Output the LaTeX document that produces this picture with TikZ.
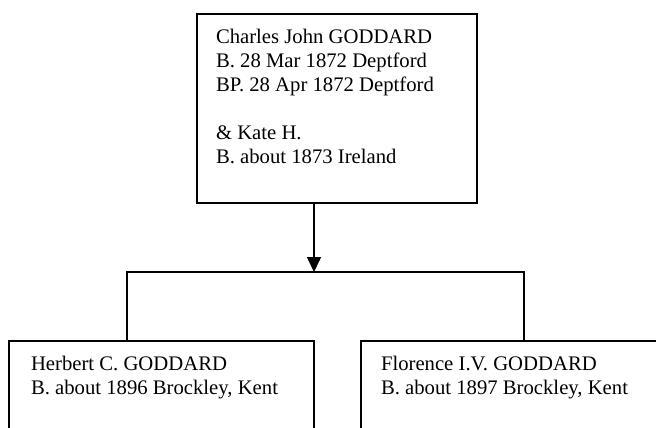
\documentclass[tikz,border=0pt]{standalone}
\usepackage{fontspec}
\setmainfont{Liberation Serif}
\usetikzlibrary{arrows.meta}
\tikzset{
  box/.style={draw=black, line width=1.6pt, rectangle, anchor=north west, inner sep=0pt, outer sep=0pt},
  txt/.style={anchor=north west, inner sep=0pt, outer sep=0pt, align=left,
    font=\fontsize{20.7pt}{24pt}\selectfont},
  conn/.style={draw=black, line width=1.6pt},
}
\begin{document}
\begin{tikzpicture}[x=1pt,y=-1pt]
\clip (0,0) rectangle (656,428);
\fill[white] (0,0) rectangle (656,428);
% boxes
\node[box, minimum width=280pt, minimum height=189pt] (top) at (197,14) {};
\node[box, minimum width=305pt, minimum height=120pt] (lbox) at (9,341) {};
\node[box, minimum width=320pt, minimum height=120pt] (rbox) at (361,341) {};
% texts
\node[txt] (toptxt) at (216,29) {Charles John GODDARD\\B. 28 Mar 1872 Deptford\\BP. 28 Apr 1872 Deptford\\~\\\& Kate H.\\B. about 1873 Ireland};
\node[txt] (ltxt) at (31,356) {Herbert C. GODDARD\\B. about 1896 Brockley, Kent};
\node[txt] (rtxt) at (381,356) {Florence I.V. GODDARD\\B. about 1897 Brockley, Kent};
% connectors
\coordinate (junc) at (314,272);
\coordinate (cl) at (127,272);
\coordinate (cr) at (524,272);
\draw[conn, -{Triangle[width=14pt,length=15pt]}] (junc |- top.south) -- (junc);
\draw[conn] (cl |- lbox.north) -- (cl) -- (cr) -- (cr |- rbox.north);
\end{tikzpicture}
\end{document}
